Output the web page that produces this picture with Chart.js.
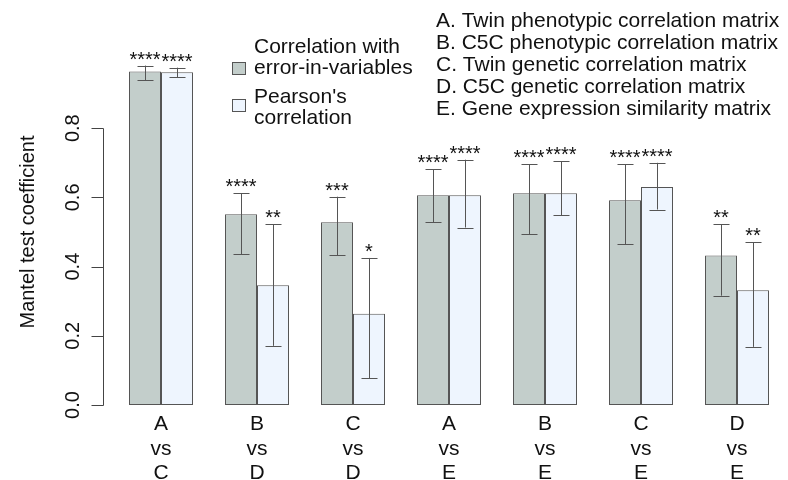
<!DOCTYPE html>
<html>
<head>
<meta charset="utf-8">
<script src="https://cdn.jsdelivr.net/npm/chart.js@4/dist/chart.umd.min.js"></script>
<style>
  html, body { margin: 0; padding: 0; background: #ffffff; }
  #wrap { width: 788px; height: 480px; position: relative; }
</style>
</head>
<body>
<div id="wrap"><canvas id="c" width="788" height="480"></canvas></div>
<script>
// ---- data ----
const categories = [['A','vs','C'],['B','vs','D'],['C','vs','D'],['A','vs','E'],['B','vs','E'],['C','vs','E'],['D','vs','E']];
const seriesNames = [['Correlation with','error-in-variables'], ["Pearson's",'correlation']];
const eivValues   = [0.964, 0.551, 0.528, 0.606, 0.612, 0.592, 0.432];
const eivLower    = [0.939, 0.436, 0.433, 0.528, 0.493, 0.465, 0.316];
const eivUpper    = [0.981, 0.612, 0.602, 0.682, 0.696, 0.696, 0.522];
const pearsonValues = [0.962, 0.346, 0.264, 0.606, 0.612, 0.630, 0.332];
const pearsonLower  = [0.948, 0.171, 0.077, 0.513, 0.548, 0.565, 0.168];
const pearsonUpper  = [0.975, 0.522, 0.425, 0.709, 0.704, 0.700, 0.471];
const eivStars     = ['****','****','***','****','****','****','**'];
const pearsonStars = ['****','**','*','****','****','****','**'];
const yTickValues = [0, 0.2, 0.4, 0.6, 0.8];
const yTickLabels = ['0.0','0.2','0.4','0.6','0.8'];
const matrixKey = [
  'A. Twin phenotypic correlation matrix',
  'B. C5C phenotypic correlation matrix',
  'C. Twin genetic correlation matrix',
  'D. C5C genetic correlation matrix',
  'E. Gene expression similarity matrix'
];
const yTitle = 'Mantel test coefficient';

// ---- styles ----
const FONT = "'Liberation Sans', Arial, Helvetica, sans-serif";
const darkFill = '#c3cecb';
const lightFill = '#eef5fe';
const edge = '#555555';
const errColor = '#555555';

const lowers = [eivLower, pearsonLower];
const uppers = [eivUpper, pearsonUpper];
const stars = [eivStars, pearsonStars];

const decorPlugin = {
  id: 'decor',
  afterDatasetsDraw(chart) {
    const ctx = chart.ctx;
    const y = chart.scales.y;
    ctx.save();
    // error bars and significance stars
    for (let d = 0; d < 2; d++) {
      const meta = chart.getDatasetMeta(d);
      meta.data.forEach((bar, i) => {
        const x = Math.round(bar.x) + 0.5;
        const yt = y.getPixelForValue(uppers[d][i]);
        const yb = y.getPixelForValue(lowers[d][i]);
        ctx.strokeStyle = errColor;
        ctx.lineWidth = 1;
        ctx.beginPath();
        ctx.moveTo(x, yt); ctx.lineTo(x, yb);
        ctx.moveTo(x - 8, Math.round(yt) + 0.5); ctx.lineTo(x + 8, Math.round(yt) + 0.5);
        ctx.moveTo(x - 8, Math.round(yb) + 0.5); ctx.lineTo(x + 8, Math.round(yb) + 0.5);
        ctx.stroke();
        ctx.fillStyle = '#111';
        ctx.font = '20px ' + FONT;
        ctx.textAlign = 'center';
        ctx.textBaseline = 'alphabetic';
        ctx.fillText(stars[d][i], bar.x, yt);
      });
    }
    ctx.restore();
  },
  afterDraw(chart) {
    const ctx = chart.ctx;
    const y = chart.scales.y;
    ctx.save();
    // R-style y axis
    const ax = 103.5;
    const y0 = y.getPixelForValue(yTickValues[0]);
    const y1 = y.getPixelForValue(yTickValues[yTickValues.length - 1]);
    ctx.strokeStyle = '#444';
    ctx.lineWidth = 1;
    ctx.beginPath();
    ctx.moveTo(ax, Math.round(y0) + 0.5);
    ctx.lineTo(ax, Math.round(y1) + 0.5);
    yTickValues.forEach(v => {
      const py = Math.round(y.getPixelForValue(v)) + 0.5;
      ctx.moveTo(ax, py); ctx.lineTo(ax - 12, py);
    });
    ctx.stroke();
    ctx.fillStyle = '#111';
    ctx.font = '20px ' + FONT;
    ctx.textAlign = 'center';
    ctx.textBaseline = 'alphabetic';
    yTickValues.forEach((v, k) => {
      const py = y.getPixelForValue(v);
      ctx.save();
      ctx.translate(78.5, py);
      ctx.rotate(-Math.PI / 2);
      ctx.fillText(yTickLabels[k], 0, 0);
      ctx.restore();
    });

    // series legend
    ctx.font = '21px ' + FONT;
    ctx.textAlign = 'left';
    const fills = [darkFill, lightFill];
    const boxY = [62, 99];
    const lineY = [[53, 74], [103, 124]];
    for (let s = 0; s < 2; s++) {
      ctx.fillStyle = fills[s];
      ctx.fillRect(232, boxY[s], 13, 12);
      ctx.strokeStyle = edge;
      ctx.strokeRect(232.5, boxY[s] + 0.5, 13, 12);
      ctx.fillStyle = '#111';
      seriesNames[s].forEach((t, j) => ctx.fillText(t, 254, lineY[s][j]));
    }
    // matrix key
    matrixKey.forEach((t, j) => ctx.fillText(t, 436, 27 + j * 21.9));
    ctx.restore();
  }
};

new Chart(document.getElementById('c'), {
  type: 'bar',
  data: {
    labels: categories,
    datasets: [
      { label: seriesNames[0].join(' '), data: eivValues, backgroundColor: darkFill,
        borderColor: edge, borderWidth: 1, borderSkipped: false },
      { label: seriesNames[1].join(' '), data: pearsonValues, backgroundColor: lightFill,
        borderColor: edge, borderWidth: 1, borderSkipped: false }
    ]
  },
  options: {
    responsive: false,
    animation: false,
    devicePixelRatio: 1,
    layout: { padding: { left: 0, right: 3, top: 59, bottom: 0 } },
    datasets: { bar: { categoryPercentage: 2 / 3, barPercentage: 1 } },
    plugins: { legend: { display: false }, tooltip: { enabled: false } },
    scales: {
      x: {
        grid: { display: false, drawTicks: false },
        border: { display: false },
        ticks: { color: '#111', font: { size: 21, family: FONT, lineHeight: 1.17 }, padding: 7,
                 maxRotation: 0, minRotation: 0, autoSkip: false },
        afterFit(s) { s.height = 75; }
      },
      y: {
        min: 0, max: 1,
        grid: { display: false, drawTicks: false },
        border: { display: false },
        ticks: { display: false },
        title: { display: true, text: yTitle, color: '#111',
                 font: { size: 20, family: FONT, lineHeight: 1.2 }, padding: { top: 16, bottom: 0 } },
        afterFit(s) { s.width = 113; }
      }
    }
  },
  plugins: [decorPlugin]
});
</script>
</body>
</html>
